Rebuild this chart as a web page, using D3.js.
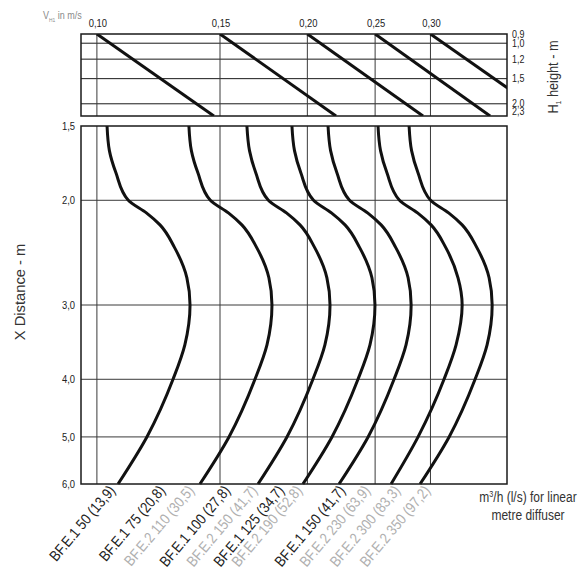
<!DOCTYPE html>
<html><head><meta charset="utf-8">
<script src="https://cdn.jsdelivr.net/npm/d3@7"></script>
<style>
body{margin:0;background:#fff}
svg{display:block;font-family:"Liberation Sans",Arial,sans-serif}
</style></head><body>
<svg id="chart" width="581" height="571"></svg>
<script>
// Terminal velocity grid (m/s)
const velocityTicks = [0.10, 0.15, 0.20, 0.25, 0.30];
const velocityTickLabels = ["0,10", "0,15", "0,20", "0,25", "0,30"];
// Mounting height H1 (m)
const heightTicks = [0.9, 1.0, 1.2, 1.5, 2.0, 2.3];
const heightTickLabels = ["0,9", "1,0", "1,2", "1,5", "2,0", "2,3"];
// Throw distance X (m)
const distanceTicks = [1.5, 2.0, 3.0, 4.0, 5.0, 6.0];
const distanceTickLabels = ["1,5", "2,0", "3,0", "4,0", "5,0", "6,0"];

// Height correction lines: velocity at H1 = 0.9 m and at H1 = 2.3 m
const heightLineStart = [0.10, 0.15, 0.20, 0.25, 0.30];
const heightLineEnd = [0.147, 0.2198, 0.2927, 0.3651, 0.441];

// Distances at which the airflow curves are sampled (m)
const curveDistances = [1.5, 1.65, 1.8, 2.0, 2.1, 2.2, 2.4, 2.7, 3.0, 3.5, 4.0, 5.0, 6.0];
// Velocity (m/s) along each airflow curve
const curve1 = [0.1034, 0.1042, 0.1065, 0.1109, 0.1177, 0.1231, 0.1291, 0.1345, 0.1359, 0.1336, 0.1285, 0.1179, 0.1072];
const curve2 = [0.1354, 0.1365, 0.1395, 0.1453, 0.1542, 0.1612, 0.1692, 0.1762, 0.1780, 0.1751, 0.1683, 0.1545, 0.1404];
const curve3 = [0.1639, 0.1653, 0.1688, 0.1759, 0.1867, 0.1952, 0.2048, 0.2133, 0.2155, 0.2119, 0.2037, 0.1870, 0.1700];
const curve4 = [0.1901, 0.1917, 0.1958, 0.2041, 0.2165, 0.2264, 0.2375, 0.2474, 0.2499, 0.2458, 0.2363, 0.2169, 0.1971];
const curve5 = [0.2141, 0.2159, 0.2205, 0.2298, 0.2439, 0.2550, 0.2675, 0.2787, 0.2815, 0.2768, 0.2661, 0.2443, 0.2220];
const curve6 = [0.2524, 0.2545, 0.2600, 0.2709, 0.2875, 0.3006, 0.3154, 0.3285, 0.3330, 0.3264, 0.3137, 0.2880, 0.2635];
const curve7 = [0.2796, 0.2819, 0.2880, 0.3001, 0.3185, 0.3330, 0.3494, 0.3639, 0.3676, 0.3615, 0.3475, 0.3190, 0.2899];

// Diffuser airflow labels, one pair per curve
const labelsE1 = ["BF.E.1 50 (13,9)", "BF.E.1 75 (20,8)", "BF.E.1 100 (27,8)", "BF.E.1 125 (34,7)", "BF.E.1 150 (41,7)", "", ""];
const labelsE2 = ["", "BF.E.2 110 (30,5)", "BF.E.2 150 (41,7)", "BF.E.2 190 (52,8)", "BF.E.2 230 (63,9)", "BF.E.2 300 (83,3)", "BF.E.2 350 (97,2)"];

const curves = [curve1, curve2, curve3, curve4, curve5, curve6, curve7];

const svg = d3.select("#chart");
const left = 81, right = 507;
const topY0 = 34, topY1 = 116, botY0 = 126, botY1 = 484;
const NARROW = 0.82; // horizontal squeeze giving a condensed face

const x = d3.scaleLog().domain([0.0949, 0.386]).range([left, right]);
const yH = d3.scaleLog().domain([0.9, 2.3]).range([topY0, topY1]);
const yX = d3.scaleLog().domain([1.5, 6.0]).range([botY0, botY1]);

const gridColor = "#3a3a3a";
const ink = "#1a1a1a";

// condensed text helper
function label(parent, px, py, str, o = {}) {
  return parent.append("text")
    .attr("transform", `translate(${px},${py}) rotate(${o.rotate || 0}) scale(${o.sx || NARROW},1)`)
    .attr("text-anchor", o.anchor || "start")
    .attr("dy", o.dy || null)
    .attr("font-size", o.size || 11.5)
    .attr("fill", o.fill || "#222")
    .text(str);
}

// ---- upper panel: height correction ----
const upper = svg.append("g");
upper.append("clipPath").attr("id", "clipTop")
  .append("rect").attr("x", left).attr("y", topY0).attr("width", right - left).attr("height", topY1 - topY0);
upper.selectAll("line.h").data(heightTicks.slice(1, -1)).join("line")
  .attr("x1", left).attr("x2", right)
  .attr("y1", d => yH(d)).attr("y2", d => yH(d))
  .attr("stroke", ink).attr("stroke-width", 1);
upper.selectAll("line.v").data(velocityTicks).join("line")
  .attr("x1", d => x(d)).attr("x2", d => x(d))
  .attr("y1", topY0).attr("y2", topY1)
  .attr("stroke", gridColor).attr("stroke-width", 1);
upper.append("g").attr("clip-path", "url(#clipTop)")
  .selectAll("line").data(heightLineStart).join("line")
  .attr("x1", d => x(d)).attr("y1", yH(0.9))
  .attr("x2", (d, i) => x(heightLineEnd[i])).attr("y2", yH(2.3))
  .attr("stroke", "#111").attr("stroke-width", 3);
upper.append("rect").attr("x", left).attr("y", topY0).attr("width", right - left).attr("height", topY1 - topY0)
  .attr("fill", "none").attr("stroke", ink).attr("stroke-width", 1.5);

// velocity tick labels along the top
velocityTicks.forEach((v, i) => label(svg, x(v) + 1, 27, velocityTickLabels[i], { anchor: "middle", size: 11.5 }));

// velocity unit caption
const vt = label(svg, 43, 19, "", { size: 11, fill: "#8a8a8a" });
vt.append("tspan").text("V");
vt.append("tspan").attr("font-size", 6).attr("dy", 3).text("H1");
vt.append("tspan").attr("dy", -3).text(" in m/s");

// height labels on the right, nudged apart where they crowd
const hl = heightTicks.map((h, i) => ({ y: Math.min(Math.max(yH(h), topY0 - 0.5), topY1 - 4.5), t: heightTickLabels[i] }));
for (let k = 0; k < 30; k++) {
  for (let i = 1; i < hl.length; i++) {
    const gap = hl[i].y - hl[i - 1].y;
    if (gap < 8) { const s = (8 - gap) / 2; hl[i].y += s; hl[i - 1].y -= s; }
  }
  hl[0].y = Math.max(hl[0].y, topY0 - 0.5);
  hl[hl.length - 1].y = Math.min(hl[hl.length - 1].y, topY1 - 4.5);
}
hl.forEach(d => label(svg, 512, d.y, d.t, { size: 10.5, dy: "0.36em", sx: 0.85 }));

const ht = label(svg, 558, 77, "", { rotate: -90, anchor: "middle", size: 15, sx: 0.85, fill: "#333" });
ht.append("tspan").text("H");
ht.append("tspan").attr("font-size", 8).attr("dy", 3).text("1");
ht.append("tspan").attr("dy", -3).text(" height - m");

// ---- lower panel: throw distance ----
const lower = svg.append("g");
lower.selectAll("line.h").data(distanceTicks.slice(1, -1)).join("line")
  .attr("x1", left).attr("x2", right)
  .attr("y1", d => yX(d)).attr("y2", d => yX(d))
  .attr("stroke", gridColor).attr("stroke-width", 1);
lower.selectAll("line.v").data(velocityTicks).join("line")
  .attr("x1", d => x(d)).attr("x2", d => x(d))
  .attr("y1", botY0).attr("y2", botY1)
  .attr("stroke", gridColor).attr("stroke-width", 1);

const line = d3.line()
  .x(d => x(d[1])).y(d => yX(d[0]))
  .curve(d3.curveMonotoneY);
lower.selectAll("path.curve").data(curves).join("path")
  .attr("d", c => line(curveDistances.map((X, i) => [X, c[i]])))
  .attr("fill", "none").attr("stroke", "#111").attr("stroke-width", 3);

lower.append("rect").attr("x", left).attr("y", botY0).attr("width", right - left).attr("height", botY1 - botY0)
  .attr("fill", "none").attr("stroke", ink).attr("stroke-width", 1.5);

distanceTicks.forEach((d, i) => label(svg, 75, yX(d), distanceTickLabels[i], { anchor: "end", size: 11.5, dy: "0.36em" }));

label(svg, 25, 292, "X Distance - m", { rotate: -90, anchor: "middle", size: 15.5, sx: 0.95, fill: "#333" });

// airflow labels under each curve end; shifts keep neighbouring captions apart
const shiftE1 = [-2, -34, -27, -18, 7];
const shiftE2 = [0, -5, 0, 0, 32, 10, 11];
const lab = svg.append("g");
curves.forEach((c, i) => {
  const cx = x(c[c.length - 1]);
  if (labelsE1[i]) label(lab, cx + shiftE1[i], botY1 + 7, labelsE1[i], { rotate: -50, anchor: "end", size: 15, sx: 0.86, fill: "#222" });
  if (labelsE2[i]) label(lab, cx + shiftE2[i], botY1 + 7, labelsE2[i], { rotate: -50, anchor: "end", size: 15, sx: 0.86, fill: "#b0b0b0" });
});

const unit = label(svg, 528, 502, "", { anchor: "middle", size: 15, sx: 0.8, fill: "#333" });
unit.append("tspan").text("m");
unit.append("tspan").attr("font-size", 9).attr("dy", -5).text("3");
unit.append("tspan").attr("dy", 5).text("/h (l/s) for linear");
label(svg, 528, 520, "metre diffuser", { anchor: "middle", size: 15, sx: 0.8, fill: "#333" });
</script>
</body></html>
